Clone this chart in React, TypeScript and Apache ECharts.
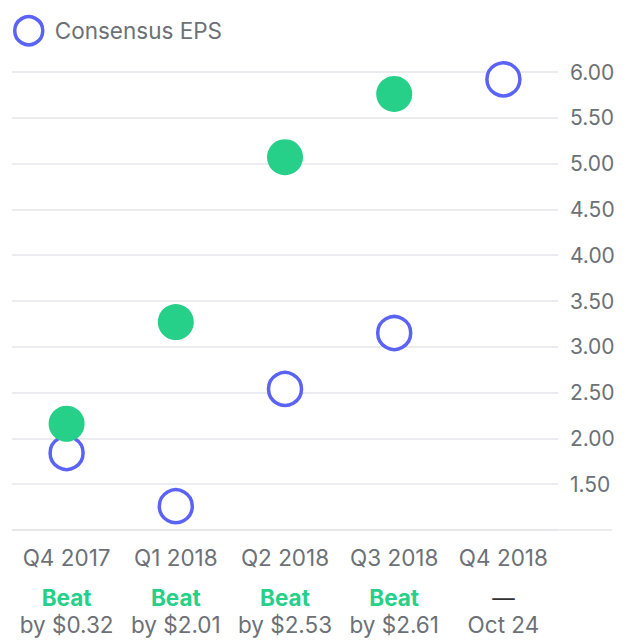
import React, { useEffect, useRef } from "react";
import * as echarts from "echarts";

const quarters = ["Q4 2017", "Q1 2018", "Q2 2018", "Q3 2018", "Q4 2018"];
const consensusEps = [1.84, 1.26, 2.54, 3.15, 5.92];
const actualEps: (number | null)[] = [2.16, 3.27, 5.07, 5.76, null];
const resultLabels = ["Beat", "Beat", "Beat", "Beat", "—"];
const detailLabels = ["by $0.32", "by $2.01", "by $2.53", "by $2.61", "Oct 24"];

const FONT = "Inter, 'Liberation Sans', Arial, sans-serif";
const FS = 22.5;
const YFS = 21;
const GRAY = "#6b7177";
const BLUE = "#5b63f7";
const GREEN = "#27d088";
const GRID = "#e3e6ea";

export default function App() {
  const ref = useRef<HTMLDivElement>(null);
  useEffect(() => {
    if (!ref.current) return;
    const chart = echarts.init(ref.current, undefined, { renderer: "svg" });
    chart.setOption({
      animation: false,
      textStyle: { fontFamily: FONT },
      legend: {
        data: ["Consensus EPS"],
        left: 13,
        top: 15,
        padding: 0,
        icon: "circle",
        itemWidth: 28,
        itemHeight: 28,
        itemStyle: { borderWidth: 3.5, color: "#ffffff", borderColor: BLUE, opacity: 1 },
        textStyle: { fontSize: FS, color: GRAY, fontFamily: FONT, padding: [0, 0, 0, 7] },
      },
      grid: { left: 12, right: 74, top: 72, height: 458 },
      xAxis: {
        type: "category",
        data: quarters,
        axisLine: { show: false },
        axisTick: { show: false },
        axisLabel: {
          margin: 1,
          interval: 0,
          formatter: (v: string, i: number) => {
            const r = resultLabels[i];
            const style = r === "Beat" ? "s" : "n";
            return `{q|${v}}\n{${style}|${r}}\n{d|${detailLabels[i]}}`;
          },
          rich: {
            q: { fontSize: FS, color: GRAY, lineHeight: 52, fontFamily: FONT },
            s: { fontSize: FS, color: GREEN, fontWeight: "bold", lineHeight: 28, fontFamily: FONT },
            n: { fontSize: FS, color: "#333333", lineHeight: 28, fontFamily: FONT },
            d: { fontSize: FS, color: GRAY, lineHeight: 26, fontFamily: FONT },
          },
        },
      },
      yAxis: {
        type: "value",
        position: "right",
        min: 1,
        max: 6,
        interval: 0.5,
        axisLine: { show: false },
        axisTick: { show: false },
        splitLine: { lineStyle: { color: GRID, width: 1.5 } },
        axisLabel: {
          showMinLabel: false,
          margin: 12,
          fontSize: YFS,
          color: GRAY,
          fontFamily: FONT,
          formatter: (v: number) => v.toFixed(2),
        },
      },
      graphic: [
        {
          type: "line",
          shape: { x1: 12, y1: 530, x2: 612, y2: 530 },
          style: { stroke: GRID, lineWidth: 1.5 },
          z: 0,
        },
      ],
      series: [
        {
          name: "Consensus EPS",
          type: "scatter",
          data: consensusEps,
          symbol: "circle",
          symbolSize: 33,
          itemStyle: { color: "#ffffff", borderColor: BLUE, borderWidth: 3.5, opacity: 1 },
          z: 2,
        },
        {
          name: "Actual EPS",
          type: "scatter",
          data: actualEps,
          symbol: "circle",
          symbolSize: 36,
          itemStyle: { color: GREEN, opacity: 1 },
          z: 3,
        },
      ],
    });
    return () => chart.dispose();
  }, []);
  return (
    <div
      ref={ref}
      style={{ position: "fixed", left: 0, top: 0, width: 632, height: 642, background: "#ffffff" }}
    />
  );
}
